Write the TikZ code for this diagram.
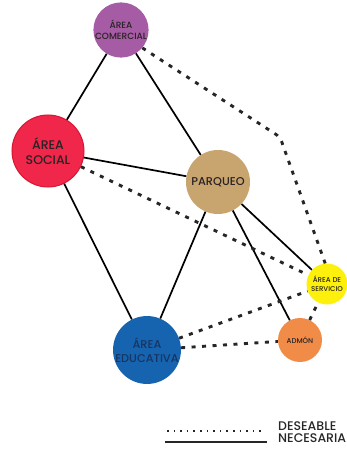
\documentclass[tikz,border=0pt]{standalone}
\usepackage{fontspec}
\setmainfont{Poppins Medium}
\usepackage{xcolor}
\usetikzlibrary{arrows.meta, positioning, calc}

\definecolor{comercialcol}{RGB}{166,92,164}
\definecolor{socialcol}{RGB}{240,38,74}
\definecolor{socialborde}{RGB}{214,22,52}
\definecolor{parqueocol}{RGB}{200,164,110}
\definecolor{serviciocol}{RGB}{252,240,12}
\definecolor{educativacol}{RGB}{22,100,176}
\definecolor{admoncol}{RGB}{241,140,72}
\definecolor{texto}{RGB}{40,34,36}
\definecolor{textoazul}{RGB}{24,52,96}

\begin{document}
\begin{tikzpicture}[
    x=1pt, y=-1pt,
    zona/.style={circle, inner sep=0pt, align=center, text=texto},
    necesaria/.style={line width=1.7pt, black},
    deseable/.style={line width=2.9pt, black!85, dash pattern=on 4pt off 6.5pt},
    leyenda/.style={anchor=west, inner sep=0pt, font=\fontsize{12.5}{13}\selectfont, text=black!85}
  ]
  \useasboundingbox (0,0) rectangle (346,449);

  \node[zona, fill=comercialcol, minimum size=54pt, font=\fontsize{9}{10.5}\selectfont] (comercial) at (121,30) {ÁREA\\COMERCIAL};
  \node[zona, fill=socialcol, draw=socialborde, line width=1pt, minimum size=72pt, font=\fontsize{12.5}{15}\selectfont] (social) at (48,151) {ÁREA\\SOCIAL};
  \node[zona, fill=parqueocol, minimum size=64pt, font=\fontsize{11.3}{12}\selectfont] (parqueo) at (218,182) {PARQUEO};
  \node[zona, fill=serviciocol, minimum size=41pt, font=\fontsize{7}{9}\selectfont] (servicio) at (327,284) {ÁREA DE\\SERVICIO};
  \node[zona, fill=educativacol, text=textoazul, minimum size=64pt, font=\fontsize{11.3}{14}\selectfont] (educativa) at (147,350) {ÁREA\\EDUCATIVA};
  \node[zona, fill=admoncol, minimum size=44pt, font=\fontsize{7}{8}\selectfont] (admon) at (300,340) {ADMÓN};

  \coordinate (codo) at (280,137);

  % necesaria
  \draw[necesaria] (comercial) -- (social);
  \draw[necesaria] (comercial) -- (parqueo);
  \draw[necesaria] (social) -- (parqueo);
  \draw[necesaria] (social) -- (educativa);
  \draw[necesaria] (parqueo) -- (educativa);
  \draw[necesaria] (parqueo) -- (admon);
  \draw[necesaria] (parqueo) -- (servicio);

  % deseable
  \draw[deseable, rounded corners=5pt] (comercial.-40) -- (codo) -- (servicio.95);
  \draw[deseable] (social) -- (servicio);
  \draw[deseable] (educativa) -- (servicio);
  \draw[deseable] (educativa) -- (admon);
  \draw[deseable] (admon) -- (servicio);

  % leyenda
  \coordinate (desA) at (167,431);
  \coordinate (desB) at (264,431);
  \coordinate (necA) at (165,442);
  \coordinate (necB) at (267,442);
  \draw[line width=2pt, black!85, dash pattern=on 1.6pt off 5pt] (desA) -- (desB);
  \draw[line width=1.5pt, black!85] (necA) -- (necB);
  \node[leyenda] (deseableTxt) at (278,426.5) {DESEABLE};
  \node[leyenda] (necesariaTxt) at (278,438) {NECESARIA};
\end{tikzpicture}
\end{document}
